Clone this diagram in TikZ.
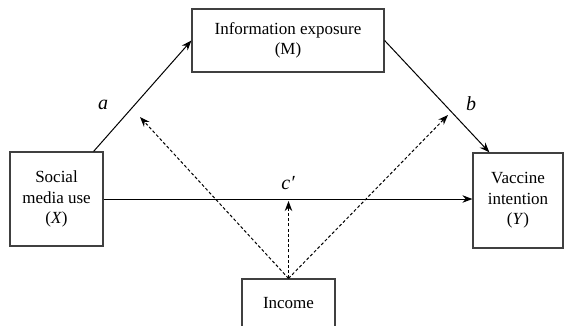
\documentclass[tikz,border=0pt]{standalone}
\usepackage{fontspec}
\setmainfont{Liberation Serif}
\usetikzlibrary{arrows.meta,calc}
\begin{document}
\begin{tikzpicture}[x=1pt,y=-1pt,
  box/.style={draw=black!75,line width=1.2pt,align=center,inner sep=0pt,
    font=\fontsize{17}{20.5}\selectfont},
  arr/.style={line width=1pt,-{Stealth[length=10pt,width=7.5pt]}},
  darr/.style={line width=1pt,dash pattern=on 3pt off 2.2pt,-{Stealth[length=10pt,width=7.5pt]}},
  lab/.style={font=\fontsize{20}{22}\selectfont\itshape,inner sep=0pt}]
\useasboundingbox (0,0) rectangle (565,325);
\node[box,minimum width=93pt,minimum height=94pt] (X) at (56.5,199) {Social\\media use\\(\textit{X})};
\node[box,minimum width=192pt,minimum height=63pt] (M) at (288,40.5) {Information exposure\\(M)};
\node[box,minimum width=90pt,minimum height=95pt] (Y) at (518,200.5) {Vaccine\\intention\\(\textit{Y})};
\node[box,minimum width=93pt,minimum height=48pt] (I) at (288.5,303) {Income};
\coordinate (ta) at (140,117);
\coordinate (tb) at (448,115);
\coordinate (tc) at (288.5,201);
\draw[arr] ([xshift=-10pt]X.north east) -- (M.west);
\draw[arr] (M.east) -- ([xshift=17pt]Y.north west);
\draw[arr] (X.east) -- (X.east -| Y.west);
\draw[darr] (I.north) -- (ta);
\draw[darr] (I.north) -- (tb);
\draw[darr] (I.north) -- (tc);
\node[lab] (la) at (103,105) {a};
\node[lab] (lb) at (471,104) {b};
\node[lab] (lc) at (288,183) {c′};
\end{tikzpicture}
\end{document}
